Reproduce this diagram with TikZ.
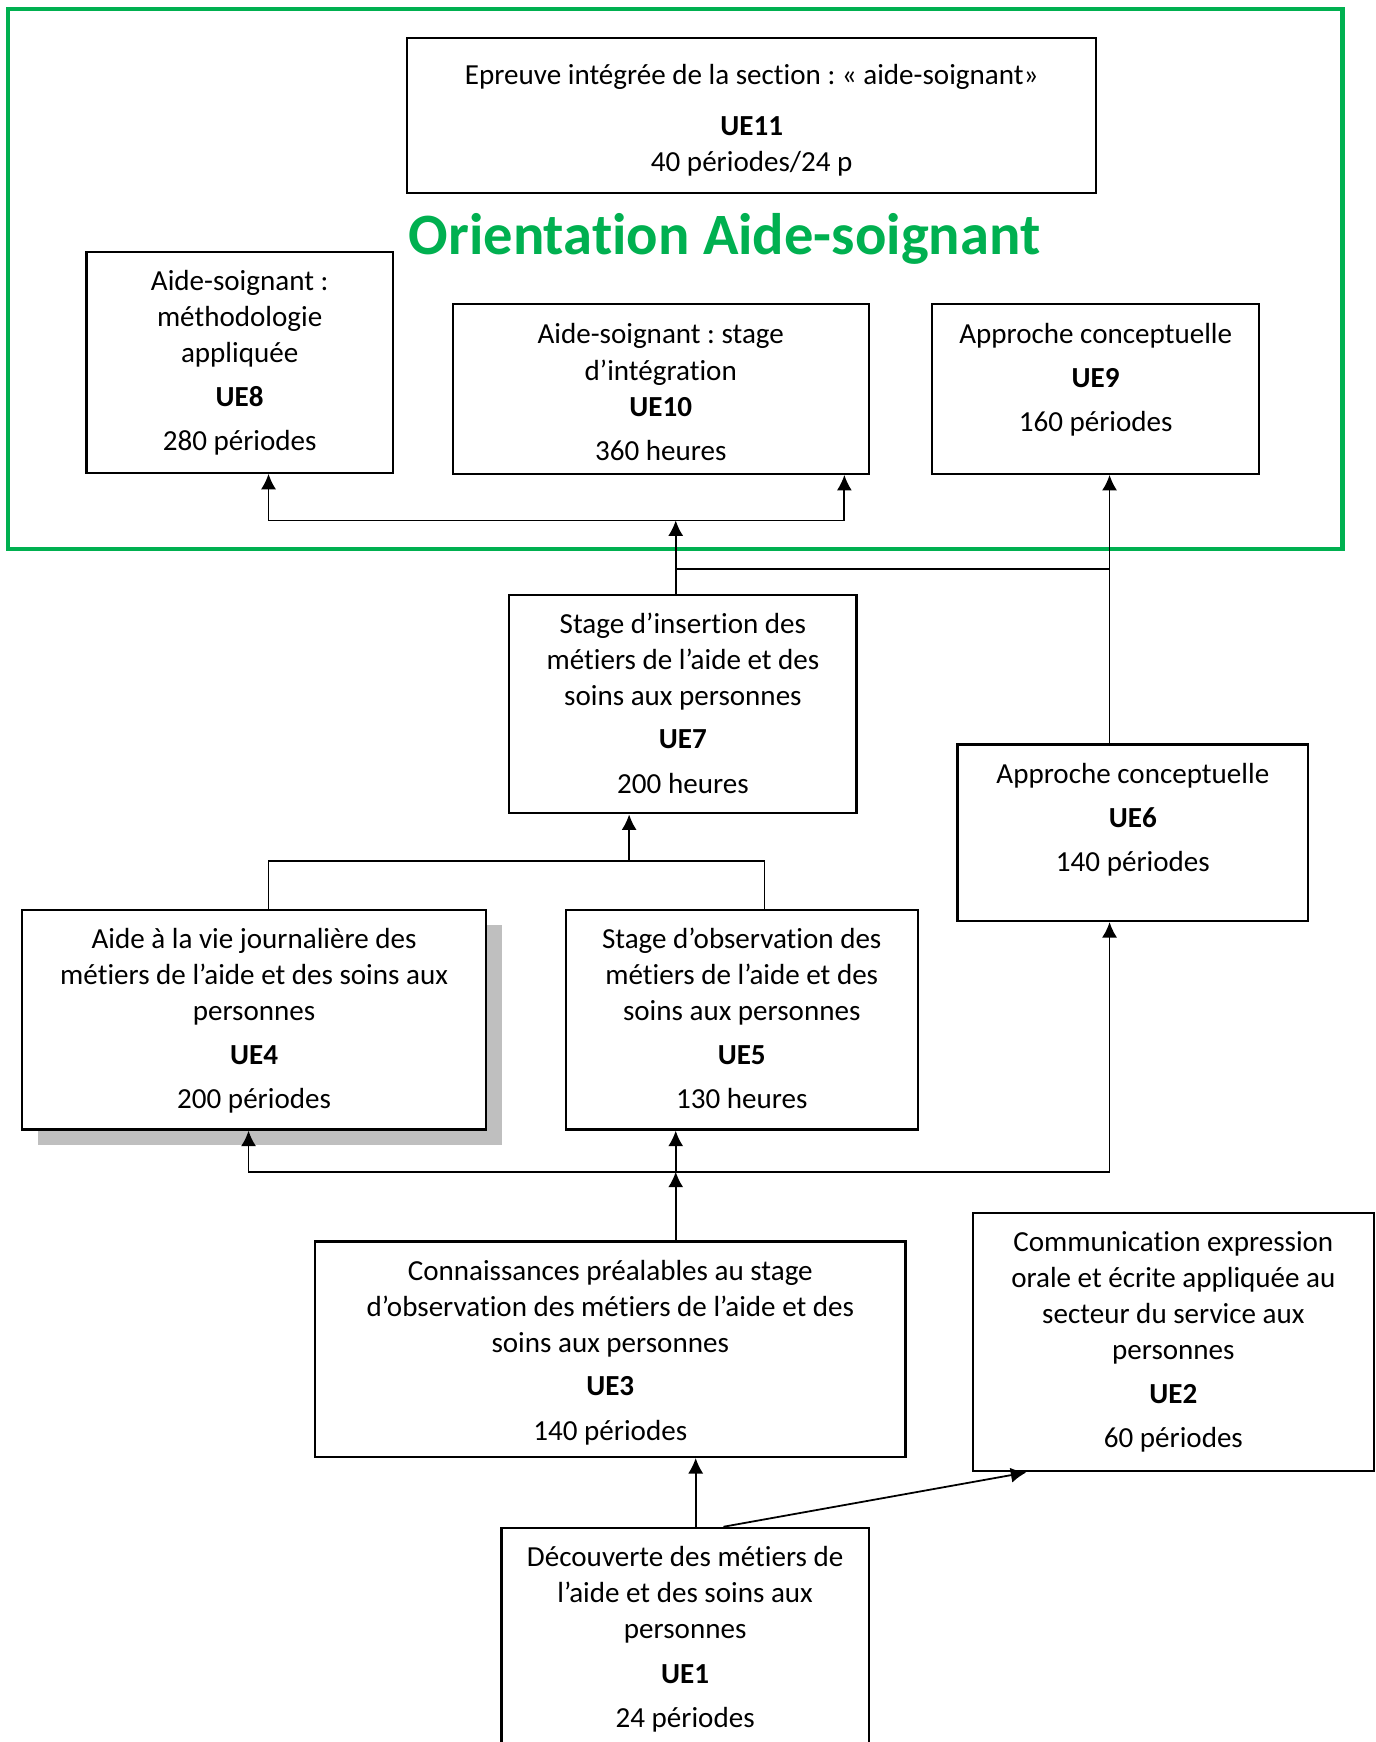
\documentclass[tikz,border=0pt]{standalone}
\usepackage{fontspec}
\setmainfont[Ligatures=NoCommon]{Carlito}
\usetikzlibrary{arrows.meta}
\usetikzlibrary{shadows}
\definecolor{orientgreen}{RGB}{0,176,80}
\newcommand{\uetxt}[4]{\parbox[c][#2][t]{#1}{\centering\rule{0pt}{#3}#4}}
\frenchspacing

\begin{document}
\begin{tikzpicture}[x=0.5pt,y=-0.5pt,>={Latex[length=7pt,width=6.8pt]},
  ue/.style={draw,fill=white,line width=1pt,inner sep=0pt,anchor=north west,font=\fontsize{13.1}{16.25}\selectfont},
  link/.style={line width=0.8pt}]
\clip (0,0) rectangle (1240,1570);
% orientation frame
\draw[orientgreen,line width=2pt] (7,8) rectangle (1210,495);
\node[anchor=base,text=orientgreen,font=\fontsize{26.4}{30}\selectfont\bfseries] (orient) at (653,229) {Orientation Aide-soignant};
% units
\node[ue] (ue11) at (366,33) {\uetxt{310.5pt}{70pt}{21pt}{Epreuve intégrée de la section : « aide-soignant»\\[6.75pt] \textbf{UE11}\\ 40 périodes/24 p}};
\node[ue] (ue8) at (77,226) {\uetxt{138pt}{99.5pt}{17.5pt}{Aide-soignant :\\ méthodologie\\ appliquée\\[3.5pt] \textbf{UE8}\\[3.5pt] 280 périodes}};
\node[ue] (ue10) at (407,273) {\uetxt{187.5pt}{76.5pt}{18pt}{Aide-soignant : stage\\ d’intégration\\ \textbf{UE10}\\[3.75pt] 360 heures}};
\node[ue] (ue9) at (839,273) {\uetxt{147.5pt}{76.5pt}{18pt}{Approche conceptuelle\\[3.25pt] \textbf{UE9}\\[3.75pt] 160 périodes}};
\node[ue] (ue7) at (458,535) {\uetxt{156.5pt}{98.5pt}{17.5pt}{Stage d’insertion des\\ métiers de l’aide et des\\ soins aux personnes\\[3.25pt] \textbf{UE7}\\[3.75pt] 200 heures}};
\node[ue] (ue6) at (862,670) {\uetxt{158pt}{79.5pt}{17.5pt}{Approche conceptuelle\\[3.75pt] \textbf{UE6}\\[3.25pt] 140 périodes}};
\node[ue,drop shadow={shadow xshift=7pt,shadow yshift=-7pt,fill=black!25,opacity=1}] (ue4) at (19,819) {\uetxt{209pt}{99pt}{17.5pt}{Aide à la vie journalière des\\ métiers de l’aide et des soins aux\\ personnes\\[3.25pt] \textbf{UE4}\\[3.75pt] 200 périodes}};
\node[ue] (ue5) at (509,819) {\uetxt{158.5pt}{99pt}{17.5pt}{Stage d’observation des\\ métiers de l’aide et des\\ soins aux personnes\\[3.25pt] \textbf{UE5}\\[3.75pt] 130 heures}};
\node[ue] (ue3) at (283,1118) {\uetxt{266pt}{97pt}{17.5pt}{Connaissances préalables au stage\\ d’observation des métiers de l’aide et des\\ soins aux personnes\\[3.25pt] \textbf{UE3}\\[3.75pt] 140 périodes}};
\node[ue] (ue2) at (876,1092) {\uetxt{180.5pt}{116.5pt}{17.5pt}{Communication expression\\ orale et écrite appliquée au\\ secteur du service aux\\ personnes\\[3.25pt] \textbf{UE2}\\[3.75pt] 60 périodes}};
\node[ue] (ue1) at (451,1376) {\uetxt{165.5pt}{100pt}{17.5pt}{Découverte des métiers de\\ l’aide et des soins aux\\ personnes\\[3.75pt] \textbf{UE1}\\[3.75pt] 24 périodes}};
% junctions
\coordinate (bus1) at (609,1056);
\coordinate (bus2) at (567,776);
\coordinate (bus3) at (609,469);
\coordinate (bus4) at (609,513);
\coordinate (bus5) at (1000,513);
% connectors
\draw[link,->] (ue1.north -| 627,0) -- (ue3.south -| 627,0);
\draw[link,->] (ue1.north -| 652,0) -- (ue2.south -| 925,0);
\draw[link,->] (ue3.north -| bus1) -- (bus1);
\draw[link,->] (bus1) -- (ue5.south -| bus1);
\draw[link,->] (bus1) -| (ue4.south -| 224,0);
\draw[link,->] (bus1) -| (ue6.south -| bus5);
\draw[link] (ue4.north -| 242,0) |- (bus2) -| (ue5.north -| 689,0);
\draw[link,->] (bus2) -- (ue7.south -| bus2);
\draw[link,->] (ue7.north -| bus3) -- (bus3);
\draw[link,->] (bus3) -| (ue8.south -| 242,0);
\draw[link,->] (bus3) -| (ue10.south -| 761,0);
\draw[link] (bus4) -- (bus5);
\draw[link,->] (ue6.north -| bus5) -- (ue9.south -| bus5);
\end{tikzpicture}
\end{document}
